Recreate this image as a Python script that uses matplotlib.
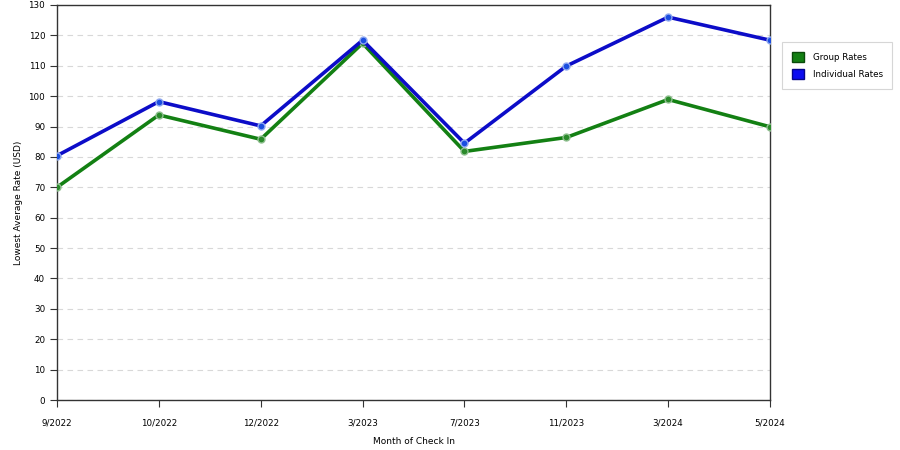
import matplotlib
matplotlib.use('Agg')
import matplotlib.pyplot as plt
from matplotlib.patches import Patch

months = ['9/2022', '10/2022', '12/2022', '3/2023', '7/2023', '11/2023', '3/2024', '5/2024']
group_rates = [70.0, 93.8, 85.8, 117.4, 81.8, 86.4, 98.9, 89.9]
individual_rates = [80.4, 98.2, 90.2, 118.4, 84.5, 109.9, 126.0, 118.4]

fig = plt.figure(figsize=(9, 4.5), dpi=100)
ax = fig.add_axes([0.0633, 0.111, 0.7923, 0.878])

x = list(range(len(months)))
ax.plot(x, group_rates, color='#138013', lw=2.6, marker='o', ms=5,
        mfc='#2a8a2a', mec='#8fbf8f', mew=1, zorder=3)
ax.plot(x, individual_rates, color='#0c0cc8', lw=2.6, marker='o', ms=5,
        mfc='#1a4ee0', mec='#8fa8f0', mew=1, zorder=4)

ax.set_xlim(0, len(months) - 1)
ax.set_ylim(0, 130)
ax.set_yticks(range(0, 131, 10))
ax.set_xticks(x)
ax.set_xticklabels(months)
ax.tick_params(labelsize=6.3, length=5, color='#333333')
ax.tick_params(axis='x', pad=8)
ax.grid(axis='y', color='#d8d8d8', linestyle=(0, (5, 4)), lw=0.8)
ax.set_axisbelow(True)
for s in ax.spines.values():
    s.set_color('#333333')
    s.set_linewidth(1)

ax.set_xlabel('Month of Check In', fontsize=6.5, labelpad=7)
ax.set_ylabel('Lowest Average Rate (USD)', fontsize=6.5, labelpad=4)

handles = [Patch(facecolor='#138013', edgecolor='#0a4a0a', label='Group Rates'),
           Patch(facecolor='#0c0cf0', edgecolor='#06068a', label='Individual Rates')]
leg = fig.legend(handles=handles, loc='upper left', bbox_to_anchor=(0.864, 0.916),
                 fontsize=6.3, frameon=True, fancybox=False, handlelength=1.4,
                 handleheight=1.5, borderpad=1.1, labelspacing=0.7, handletextpad=1.0)
leg.get_frame().set_edgecolor('#cccccc')
leg.get_frame().set_linewidth(0.8)

fig.savefig('out.png', dpi=100)
